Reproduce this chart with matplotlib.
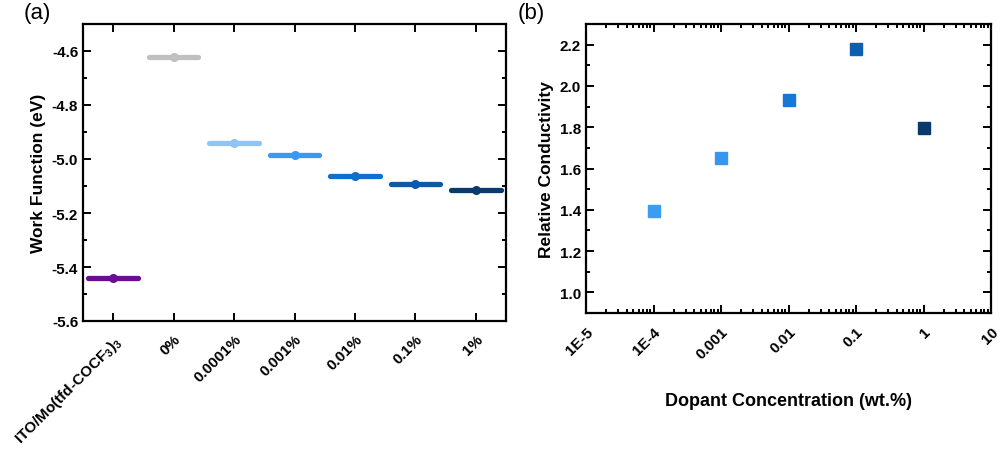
import matplotlib
matplotlib.use("Agg")

import matplotlib.pyplot as plt
import numpy as np
from matplotlib.ticker import MultipleLocator, LogLocator, FixedLocator, NullFormatter

plt.rcParams["font.family"] = ["Liberation Sans", "DejaVu Sans"]
plt.rcParams["mathtext.fontset"] = "custom"
plt.rcParams["mathtext.rm"] = "Liberation Sans:bold"
plt.rcParams["mathtext.bf"] = "Liberation Sans:bold"

# panel (a): work function per sample
WF_LABELS = [r"ITO/Mo(tfd-COCF$_3$)$_3$", "0%", "0.0001%", "0.001%", "0.01%", "0.1%", "1%"]
WF_VALUES = [-5.439, -4.623, -4.941, -4.987, -5.063, -5.092, -5.114]
WF_ERRORS = [0.003, 0.003, 0.003, 0.010, 0.008, 0.004, 0.003]
WF_COLORS = ["#6a0d91", "#c0c0c0", "#8ec5f5", "#3c97ee", "#0f6fd0", "#0a5aa8", "#0a3a6b"]

# panel (b): relative conductivity vs dopant concentration
DOPANT_CONC = [1e-4, 1e-3, 1e-2, 1e-1, 1.0]
REL_COND = [1.394, 1.649, 1.933, 2.181, 1.797]
COND_COLORS = ["#3c9cf0", "#3a95ec", "#1677d6", "#0a5fb0", "#0a3a6b"]
X_TICK_LABELS = ["1E-5", "1E-4", "0.001", "0.01", "0.1", "1", "10"]

TICK_SIZE = 11
LABEL_SIZE = 12.5


def style_box(ax):
    for side in ax.spines.values():
        side.set_linewidth(1.6)
    ax.tick_params(which="both", direction="in", top=True, right=True, width=1.4)
    ax.tick_params(which="major", length=6)
    ax.tick_params(which="minor", length=3)


fig = plt.figure(figsize=(10.05, 4.52), dpi=100)
ax1 = fig.add_axes([83 / 1005, 1 - 322 / 452, 423 / 1005, 297 / 452])
ax2 = fig.add_axes([586 / 1005, 1 - 314 / 452, 405 / 1005, 289 / 452])

# (a)
x = np.arange(len(WF_VALUES))
for xi, val, err, col in zip(x, WF_VALUES, WF_ERRORS, WF_COLORS):
    ax1.hlines(val, xi - 0.41, xi + 0.41, color=col, lw=3.8, capstyle="round")
    ax1.errorbar(xi, val, yerr=err, fmt="o", color=col, ms=5.5, elinewidth=2.4, capsize=0)
ax1.set_xlim(-0.5, 6.5)
ax1.set_ylim(-5.6, -4.5)
ax1.set_xticks(x)
ax1.set_xticklabels(WF_LABELS, rotation=45, ha="right", rotation_mode="anchor",
                    fontsize=TICK_SIZE, fontweight="bold")
ax1.yaxis.set_minor_locator(MultipleLocator(0.1))
ax1.set_yticks([-5.6, -5.4, -5.2, -5.0, -4.8, -4.6])
ax1.set_yticklabels(["-5.6", "-5.4", "-5.2", "-5.0", "-4.8", "-4.6"], fontsize=TICK_SIZE, fontweight="bold")
ax1.set_ylabel("Work Function (eV)", fontsize=LABEL_SIZE, fontweight="bold")
style_box(ax1)
ax1.tick_params(axis="x", which="major", pad=8)
fig.text(24 / 1005, 1 - 14 / 452, "(a)", fontsize=16, va="center", ha="left")

# (b)
for xc, yc, col in zip(DOPANT_CONC, REL_COND, COND_COLORS):
    ax2.plot(xc, yc, "s", color=col, ms=8, mec=col)
ax2.set_xscale("log")
ax2.set_xlim(1e-5, 10)
ax2.set_ylim(0.9, 2.3)
ax2.xaxis.set_major_locator(FixedLocator([1e-5, 1e-4, 1e-3, 1e-2, 1e-1, 1, 10]))
ax2.xaxis.set_minor_locator(LogLocator(base=10, subs=np.arange(2, 10), numticks=20))
ax2.xaxis.set_minor_formatter(NullFormatter())
ax2.set_xticklabels(X_TICK_LABELS, rotation=45, ha="right", rotation_mode="anchor",
                    fontsize=TICK_SIZE, fontweight="bold")
ax2.set_yticks([1.0, 1.2, 1.4, 1.6, 1.8, 2.0, 2.2])
ax2.set_yticklabels(["1.0", "1.2", "1.4", "1.6", "1.8", "2.0", "2.2"], fontsize=TICK_SIZE, fontweight="bold")
ax2.yaxis.set_minor_locator(MultipleLocator(0.1))
ax2.set_xlabel("Dopant Concentration (wt.%)", fontsize=LABEL_SIZE + 0.5, fontweight="bold", labelpad=22)
ax2.set_ylabel("Relative Conductivity", fontsize=LABEL_SIZE, fontweight="bold")
style_box(ax2)
ax2.tick_params(axis="x", which="major", pad=8)
fig.text(518 / 1005, 1 - 14 / 452, "(b)", fontsize=16, va="center", ha="left")

fig.savefig("out.png", dpi=100)
